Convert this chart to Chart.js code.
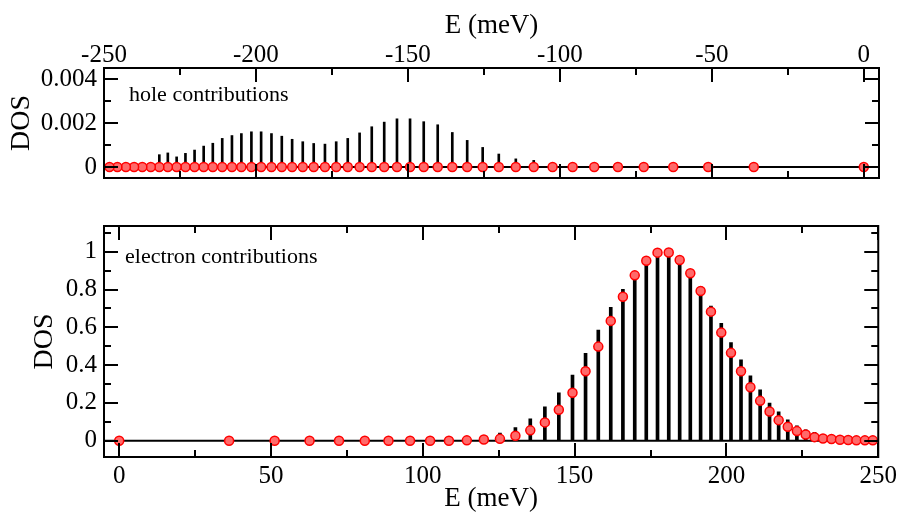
<!DOCTYPE html>
<html>
<head>
<meta charset="utf-8">
<script src="https://cdn.jsdelivr.net/npm/chart.js@4/dist/chart.umd.min.js"></script>
<style>
  body { margin: 0; background: #fff; }
  #holes { position: absolute; left: 0; top: 0; }
  #electrons { position: absolute; left: 0; top: 200px; }
</style>
</head>
<body>
<canvas id="holes" width="901" height="200"></canvas>
<canvas id="electrons" width="901" height="315"></canvas>
<script>
// level energies (meV)
let electronE = [0, 36.2, 51.2, 62.7, 72.4, 80.9, 88.7, 95.8, 102.4, 108.6, 114.5, 120.1,
  125.4, 130.5, 135.4, 140.2, 144.8, 149.3, 153.6, 157.8, 161.9, 165.9, 169.8, 173.6,
  177.3, 181.0, 184.6, 188.1, 191.5, 194.9, 198.3, 201.5, 204.8, 207.9, 211.1, 214.2,
  217.2, 220.2, 223.2, 226.1, 229.0, 231.8, 234.6, 237.4, 240.1, 242.8, 245.6, 248.2];
let holeE = [0, -36.2, -51.2, -62.7, -72.4, -80.9, -88.7, -95.8, -102.4, -108.6, -114.5, -120.1,
  -125.4, -130.5, -135.4, -140.2, -144.8, -149.3, -153.6, -157.8, -161.9, -165.9, -169.8, -173.6,
  -177.3, -181.0, -184.6, -188.1, -191.5, -194.9, -198.3, -201.5, -204.8, -207.9, -211.1, -214.2,
  -217.2, -220.2, -223.2, -226.1, -229.0, -231.8, -234.6, -237.4, -240.1, -242.8, -245.6, -248.2];

// black sticks
let holeSticks = [0, 0, 0, 0, 0, 0, 0, 0, 0, 0.0003, 0.00037, 0.00059,
  0.00089, 0.00121, 0.00157, 0.00192, 0.00206, 0.00219, 0.00219, 0.00204, 0.00183, 0.00155, 0.0013, 0.00115,
  0.00104, 0.00107, 0.00115, 0.00126, 0.0014, 0.00152, 0.0016, 0.0016, 0.00152, 0.00143, 0.0013, 0.00108,
  0.00095, 0.00077, 0.00062, 0.00046, 0.00064, 0.00056, 0, 0, 0, 0, 0, 0];
let electronSticks = [0, 0, 0, 0, 0, 0, 0, 0, 0, 0, 0.01, 0.01,
  0.04, 0.07, 0.116, 0.18, 0.254, 0.347, 0.463, 0.586, 0.706, 0.801, 0.886, 0.956,
  0.995, 0.995, 0.956, 0.889, 0.815, 0.713, 0.621, 0.519, 0.428, 0.343, 0.269, 0.199,
  0.153, 0.111, 0.079, 0.058, 0.044, 0.032, 0.023, 0.025, 0.016, 0.02, 0.013, 0.01];

// red circles
let holeDots = [0, 0, 0, 0, 0, 0, 0, 0, 0, 0, 0, 0,
  0, 0, 0, 0, 0, 0, 0, 0, 0, 0, 0, 0,
  0, 0, 0, 0, 0, 0, 0, 0, 0, 0, 0, 0,
  0, 0, 0, 0, 0, 0, 0, 0, 0, 0, 0, 0];
let electronDots = [0, 0, 0, 0, 0, 0, 0, 0, 0, 0, 0.002, 0.007,
  0.01, 0.026, 0.055, 0.097, 0.164, 0.254, 0.368, 0.498, 0.634, 0.762, 0.875, 0.952,
  0.995, 0.996, 0.956, 0.886, 0.792, 0.683, 0.572, 0.465, 0.368, 0.283, 0.211, 0.155,
  0.109, 0.074, 0.051, 0.033, 0.019, 0.012, 0.009, 0.005, 0.004, 0.002, 0.002, 0.002];

// tick labels
let holeXTicks = [-250, -200, -150, -100, -50, 0];
let holeYTicks = [0, 0.002, 0.004];
let electronXTicks = [0, 50, 100, 150, 200, 250];
let electronYTicks = [0, 0.2, 0.4, 0.6, 0.8, 1];

const serif = "'Liberation Serif', 'Times New Roman', serif";

// frame, inward ticks, zero line and the label in the corner
const framePlugin = {
  id: 'framePlugin',
  beforeDatasetsDraw(chart) {
    const {ctx, chartArea: a, scales: {y}} = chart;
    const y0 = y.getPixelForValue(0);
    ctx.save();
    ctx.strokeStyle = '#000';
    ctx.lineWidth = 2;
    ctx.beginPath();
    ctx.moveTo(a.left, y0);
    ctx.lineTo(a.right, y0);
    ctx.stroke();
    ctx.restore();
  },
  afterDatasetsDraw(chart, args, opts) {
    const {ctx, chartArea: a, scales: {x, y}} = chart;
    ctx.save();
    ctx.strokeStyle = '#000';
    ctx.lineWidth = 2;
    ctx.beginPath();
    const xt = x.ticks.map(t => t.value);
    const xs = xt[1] - xt[0];
    xt.forEach(v => {
      [[v, 14], [v + xs / 2, 7]].forEach(([val, len]) => {
        if (val < x.min || val > x.max) return;
        const px = Math.round(x.getPixelForValue(val));
        ctx.moveTo(px, a.top); ctx.lineTo(px, a.top + len);
        ctx.moveTo(px, a.bottom); ctx.lineTo(px, a.bottom - len);
      });
    });
    const yt = y.ticks.map(t => t.value);
    const ys = yt[1] - yt[0];
    yt.forEach(v => {
      [[v, 14], [v + ys / 2, 7], [v - ys / 2, 7]].forEach(([val, len]) => {
        if (val < y.min || val > y.max) return;
        const py = Math.round(y.getPixelForValue(val));
        ctx.moveTo(a.left, py); ctx.lineTo(a.left + len, py);
        ctx.moveTo(a.right, py); ctx.lineTo(a.right - len, py);
      });
    });
    ctx.stroke();
    ctx.strokeRect(a.left, a.top, a.right - a.left, a.bottom - a.top);
    ctx.fillStyle = '#000';
    ctx.font = '22px ' + serif;
    ctx.textBaseline = 'alphabetic';
    ctx.fillText(opts.text, a.left + opts.dx, a.top + opts.dy);
    ctx.restore();
  }
};

function makeChart(id, xs, sticks, dots, o) {
  return new Chart(document.getElementById(id), {
    type: 'bar',
    data: {
      datasets: [{
        type: 'scatter',
        data: xs.map((e, i) => ({x: e, y: dots[i]})),
        pointRadius: 4.5,
        pointBorderWidth: 1.5,
        pointBorderColor: '#ff0000',
        pointBackgroundColor: '#ff6a6a',
        order: 0
      }, {
        type: 'bar',
        data: xs.map((e, i) => ({x: e, y: sticks[i]})),
        backgroundColor: '#000',
        barThickness: o.barWidth,
        order: 1
      }]
    },
    options: {
      responsive: false,
      animation: false,
      layout: {padding: o.padding},
      plugins: {
        legend: {display: false},
        tooltip: {enabled: false},
        framePlugin: {text: o.label, dx: o.labelDx, dy: o.labelDy}
      },
      scales: {
        x: {
          type: 'linear',
          position: o.xPos,
          min: o.xMin,
          max: o.xMax,
          offset: false,
          grid: {display: false, drawTicks: false},
          border: {display: false},
          afterBuildTicks: s => { s.ticks = o.xTicks.map(v => ({value: v})); },
          afterFit: s => { s.height = o.xHeight; },
          ticks: {
            color: '#000',
            padding: o.xTickPad,
            maxRotation: 0,
            font: {family: serif, size: 25},
            callback: v => String(v)
          },
          title: {
            display: true,
            text: 'E (meV)',
            color: '#000',
            padding: o.xTitlePad,
            font: {family: serif, size: 27}
          }
        },
        y: {
          min: o.yMin,
          max: o.yMax,
          grid: {display: false, drawTicks: false},
          border: {display: false},
          afterBuildTicks: s => { s.ticks = o.yTicks.map(v => ({value: v})); },
          afterFit: s => { s.width = 104; },
          ticks: {
            color: '#000',
            padding: 7,
            font: {family: serif, size: 25},
            callback: v => String(v)
          },
          title: {
            display: true,
            text: 'DOS',
            color: '#000',
            padding: o.yTitlePad,
            font: {family: serif, size: 28}
          }
        }
      }
    },
    plugins: [framePlugin]
  });
}

makeChart('holes', holeE, holeSticks, holeDots, {
  xPos: 'top', xMin: -250, xMax: 5, xTicks: holeXTicks, xHeight: 68,
  xTickPad: -2, xTitlePad: {top: 10, bottom: 0},
  yMin: -0.0005, yMax: 0.0045, yTicks: holeYTicks, yTitlePad: {top: 5, bottom: 0},
  padding: {left: 0, right: 22, top: 0, bottom: 19},
  barWidth: 2, label: 'hole contributions', labelDx: 25, labelDy: 33
});

makeChart('electrons', electronE, electronSticks, electronDots, {
  xPos: 'bottom', xMin: -5, xMax: 250, xTicks: electronXTicks, xHeight: 58,
  xTickPad: 4, xTitlePad: {top: 0, bottom: 0},
  yMin: -0.086, yMax: 1.136, yTicks: electronYTicks, yTitlePad: {top: 28, bottom: 0},
  padding: {left: 0, right: 22, top: 26, bottom: 0},
  barWidth: 3, label: 'electron contributions', labelDx: 21, labelDy: 37
});
</script>
</body>
</html>
